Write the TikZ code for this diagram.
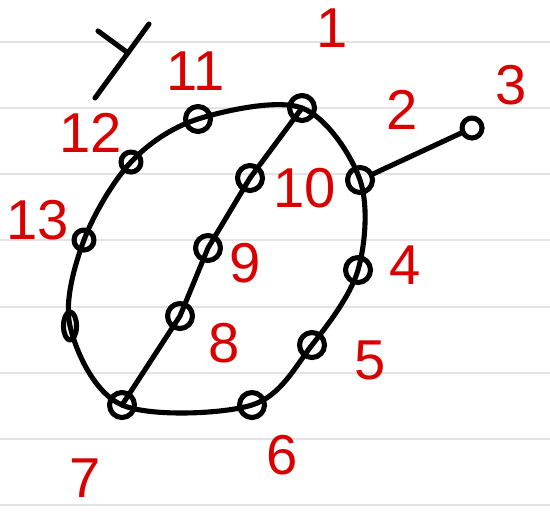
\documentclass[tikz,border=0pt]{standalone}
\usepackage{fontspec}
\setmainfont{Liberation Sans}
\usetikzlibrary{shapes.geometric}

\begin{document}
\begin{tikzpicture}[
  x=0.02cm, y=-0.02cm,
  pen/.style={line width=2.9pt, line cap=round, line join=round},
  rule/.style={draw=gray!22, line width=1.6pt},
  vtx/.style={pen, draw, circle, inner sep=0pt, minimum size=0.5cm},
  small/.style={vtx, minimum size=0.4cm},
  thin/.style={pen, draw, ellipse, inner sep=0pt, minimum width=0.26cm, minimum height=0.56cm},
  lbl/.style={text=red!85!black, font=\fontsize{32}{32}\selectfont, inner sep=0pt}
]
  \useasboundingbox[fill=white] (0,0) rectangle (550,511);

  % ruled paper
  \foreach \ly in {42,108,174,240,307,373,439,505}
    \draw[rule] (0,\ly) -- (550,\ly);

  % mark in the corner
  \draw[pen] (95,98) -- (149,24);
  \draw[pen] (98,31) -- (128,53);

  % vertices
  \coordinate (c1) at (302,108);
  \coordinate (c2) at (360,180);
  \coordinate (c4) at (358,270);
  \coordinate (c5) at (312,345);
  \coordinate (c6) at (252,405);
  \coordinate (c7) at (122,405);
  \coordinate (cL) at (70,326);
  \coordinate (c13) at (84,240);
  \coordinate (c12) at (131,162);
  \coordinate (c11) at (198,119);
  \coordinate (c10) at (250,178);
  \coordinate (c9) at (208,248);
  \coordinate (c8) at (180,316);

  % outer loop and chord
  \draw[pen] plot[smooth cycle, tension=0.55] coordinates
    {(c1) (c2) (c4) (c5) (c6) (c7) (cL) (c13) (c12) (c11)};
  \draw[pen] (c1) -- (c10) -- (c9) -- (c8) -- (c7);

  \node[vtx] (n1) at (c1) {};
  \node[vtx] (n2) at (c2) {};
  \node[small] (n3) at (472,128) {};
  \node[vtx] (n4) at (c4) {};
  \node[vtx] (n5) at (c5) {};
  \node[vtx] (n6) at (c6) {};
  \node[vtx] (n7) at (c7) {};
  \node[vtx] (n8) at (c8) {};
  \node[vtx] (n9) at (c9) {};
  \node[vtx] (n10) at (c10) {};
  \node[vtx] (n11) at (c11) {};
  \node[small] (n12) at (c12) {};
  \node[small] (n13) at (c13) {};
  \node[thin] (nL) at (cL) {};

  \draw[pen] (n2) -- (n3);

  % labels
  \node[lbl] (l1) at (332,28) {1};
  \node[lbl] (l2) at (402,110) {2};
  \node[lbl] (l3) at (511,85) {3};
  \node[lbl] (l4) at (405,265) {4};
  \node[lbl] (l5) at (370,360) {5};
  \node[lbl] (l6) at (282,455) {6};
  \node[lbl] (l7) at (85,478) {7};
  \node[lbl] (l8) at (224,343) {8};
  \node[lbl] (l9) at (245,263) {9};
  \node[lbl] (l10) at (305,188) {10};
  \node[lbl] (l11) at (196,71) {11};
  \node[lbl] (l12) at (91,133) {12};
  \node[lbl] (l13) at (38,220) {13};
\end{tikzpicture}
\end{document}
